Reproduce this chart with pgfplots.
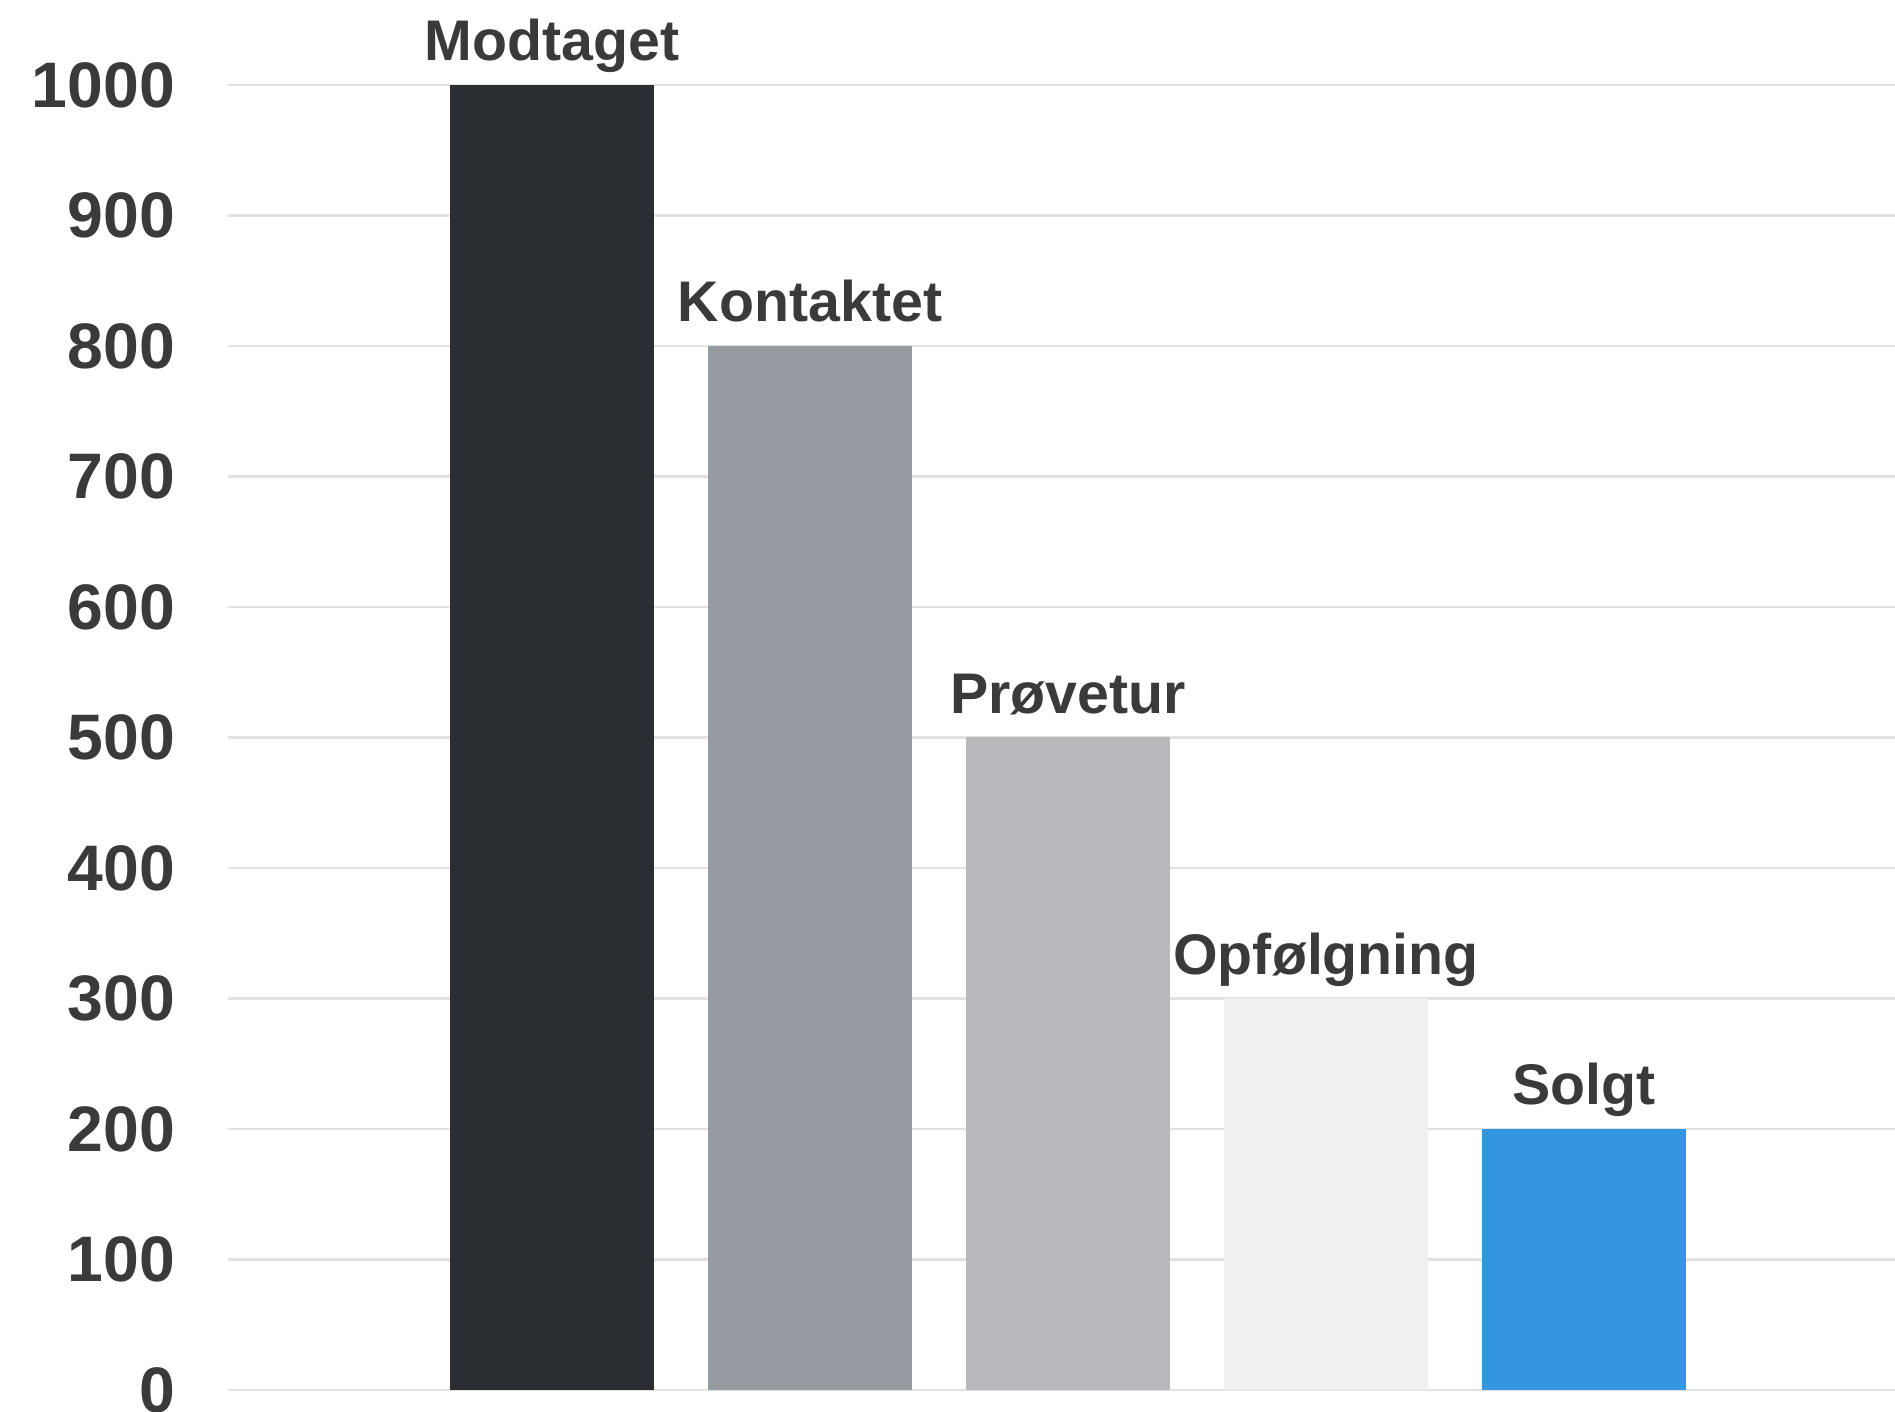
\documentclass[border=0pt]{standalone}
\usepackage{pgfplots}
\pgfplotsset{compat=1.18}
\usepackage{fontspec}
\setmainfont{Liberation Sans}
\definecolor{txt}{HTML}{3A3A3A}
\definecolor{gridc}{HTML}{E2E2E2}
\definecolor{cA}{HTML}{2A2D32}
\definecolor{cB}{HTML}{979AA1}
\definecolor{cC}{HTML}{B7B9BD}
\definecolor{cD}{HTML}{F0F0F0}
\definecolor{cE}{HTML}{3496E0}
\begin{document}
\begin{tikzpicture}
\begin{axis}[
  at={(0,0)}, anchor=south west,
  scale only axis,
  width=166.73mm, height=130.5mm,
  xmin=-1.257, xmax=5.205,
  ymin=0, ymax=1000,
  ytick={0,100,...,1000},
  xtick=\empty,
  axis line style={draw=none},
  major tick length=0pt,
  ymajorgrids,
  grid style={gridc, line width=0.6pt},
  /pgf/number format/assume math mode=true,
  /pgf/number format/1000 sep={},
  yticklabel style={font=\fontsize{18.3}{20}\selectfont\bfseries, text=txt, anchor=east, inner sep=0pt, xshift=-5.2mm},
  ybar, bar width=20.4mm, bar shift=0pt,
  point meta=explicit symbolic,
  nodes near coords,
  every node near coord/.append style={font=\fontsize{16.3}{18}\selectfont\bfseries, text=txt, anchor=base, inner sep=0pt, yshift=2.4mm},
]
\addplot[draw=none, fill=cA] coordinates {(0,1000) [Modtaget]};
\addplot[draw=none, fill=cB] coordinates {(1,800) [Kontaktet]};
\addplot[draw=none, fill=cC] coordinates {(2,500) [Prøvetur]};
\addplot[draw=none, fill=cD] coordinates {(3,300) [Opfølgning]};
\addplot[draw=none, fill=cE] coordinates {(4,200) [Solgt]};
\end{axis}
\pgfresetboundingbox
\useasboundingbox (-22.77mm,-2.2mm) rectangle (166.73mm,139.0mm);
\end{tikzpicture}
\end{document}
